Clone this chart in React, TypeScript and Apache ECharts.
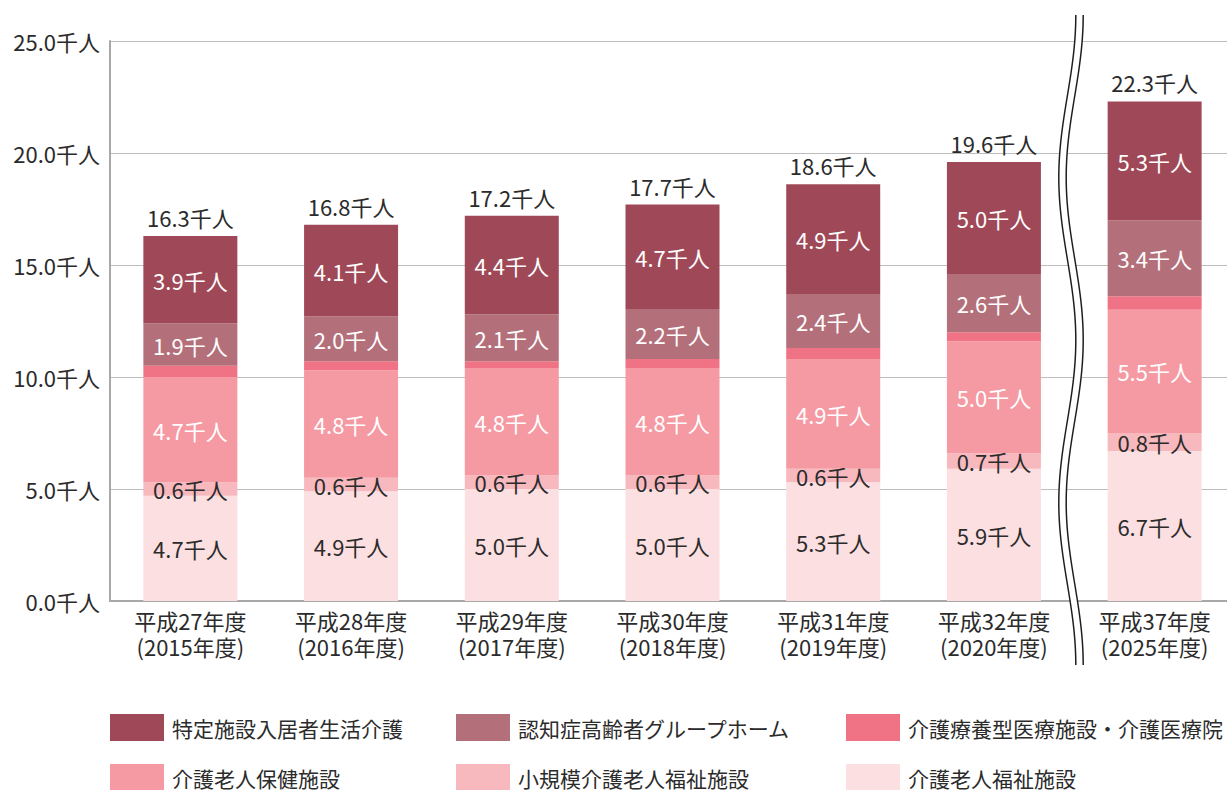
import React, { useEffect, useRef } from "react";
import * as echarts from "echarts";

const categories = [
  "平成27年度\n(2015年度)",
  "平成28年度\n(2016年度)",
  "平成29年度\n(2017年度)",
  "平成30年度\n(2018年度)",
  "平成31年度\n(2019年度)",
  "平成32年度\n(2020年度)",
  "平成37年度\n(2025年度)",
];

const fukushi = [4.7, 4.9, 5.0, 5.0, 5.3, 5.9, 6.7];
const shokibo = [0.6, 0.6, 0.6, 0.6, 0.6, 0.7, 0.8];
const hoken = [4.7, 4.8, 4.8, 4.8, 4.9, 5.0, 5.5];
const ryoyo = [0.5, 0.4, 0.3, 0.4, 0.5, 0.4, 0.6];
const ninchi = [1.9, 2.0, 2.1, 2.2, 2.4, 2.6, 3.4];
const tokutei = [3.9, 4.1, 4.4, 4.7, 4.9, 5.0, 5.3];
const totals = [16.3, 16.8, 17.2, 17.7, 18.6, 19.6, 22.3];

const yTicks = [0, 5, 10, 15, 20, 25];

// legend layout: [name, column, row]
const legendItems: [string, number, number][] = [
  ["特定施設入居者生活介護", 0, 0],
  ["認知症高齢者グループホーム", 1, 0],
  ["介護療養型医療施設・介護医療院", 2, 0],
  ["介護老人保健施設", 0, 1],
  ["小規模介護老人福祉施設", 1, 1],
  ["介護老人福祉施設", 2, 1],
];
const legendCols = [110, 456, 846];
const legendRows = [714, 764];

const FONT = '"Noto Sans CJK JP", "Noto Sans", sans-serif';
const DARK = "#2b2b2b";

export default function App() {
  const ref = useRef<HTMLDivElement>(null);
  useEffect(() => {
    document.body.style.margin = "0";
    const chart = echarts.init(ref.current!, null, { renderer: "svg" });

    const lbl = (color: string) => ({
      show: true,
      position: "inside",
      color,
      fontSize: 22,
      fontFamily: FONT,
      formatter: (p: any) => p.value.toFixed(1) + "千人",
    });

    const mk = (name: string, data: number[], color: string, labelColor: string | null) => ({
      name,
      type: "bar",
      stack: "t",
      data,
      barWidth: 94,
      itemStyle: { color },
      label: labelColor ? lbl(labelColor) : { show: false },
    });

    // wavy break decoration
    const top = 15, bottom = 665, cx0 = 1071, amp = 8.5, period = 325, half = 3.7;
    const left: number[][] = [];
    const right: number[][] = [];
    for (let y = top; y <= bottom; y += 5) {
      const c = cx0 + amp * Math.cos((2 * Math.PI * (y - top)) / period);
      left.push([c - half, y]);
      right.push([c + half, y]);
    }
    const fillPts = left.concat(right.slice().reverse());

    chart.setOption({
      animation: false,
      textStyle: { fontFamily: FONT },
      grid: { left: 110, top: 41, width: 1125, height: 560, containLabel: false },
      xAxis: {
        type: "category",
        data: categories,
        axisLine: { show: true, lineStyle: { color: "#a8a8a8", width: 2 } },
        axisTick: { show: false },
        axisLabel: {
          color: DARK,
          fontSize: 22,
          fontFamily: FONT,
          lineHeight: 26,
          margin: 6,
        },
      },
      yAxis: {
        type: "value",
        min: 0,
        max: 25,
        interval: 5,
        axisLine: { show: true, lineStyle: { color: "#a8a8a8", width: 2 } },
        axisTick: { show: false },
        splitLine: { lineStyle: { color: "#bdbdbd", width: 1 } },
        axisLabel: {
          color: DARK,
          fontSize: 22,
          fontFamily: FONT,
          margin: 10,
          formatter: (v: number) => (yTicks.includes(v) ? v.toFixed(1) + "千人" : ""),
        },
      },
      legend: legendItems.map(([name, c, r]) => ({
        orient: "horizontal",
        left: legendCols[c],
        top: legendRows[r],
        padding: 0,
        itemWidth: 54,
        itemHeight: 27,
        icon: "rect",
        selectedMode: false,
        data: [name],
        textStyle: { fontSize: 21, color: DARK, fontFamily: FONT, padding: [0, 0, 0, 3] },
      })),
      series: [
        mk("介護老人福祉施設", fukushi, "#fcdfe1", DARK),
        mk("小規模介護老人福祉施設", shokibo, "#f7b9be", DARK),
        mk("介護老人保健施設", hoken, "#f59aa3", "#ffffff"),
        mk("介護療養型医療施設・介護医療院", ryoyo, "#f07385", null),
        mk("認知症高齢者グループホーム", ninchi, "#b4707a", "#ffffff"),
        mk("特定施設入居者生活介護", tokutei, "#9f4958", "#ffffff"),
        {
          name: "合計",
          type: "bar",
          stack: "t",
          data: totals.map(() => 0),
          barWidth: 94,
          itemStyle: { color: "transparent" },
          label: {
            show: true,
            position: "top",
            distance: 8,
            color: DARK,
            fontSize: 22,
            fontFamily: FONT,
            formatter: (p: any) => totals[p.dataIndex].toFixed(1) + "千人",
          },
        },
      ],
      graphic: [
        {
          type: "polygon",
          z: 100,
          shape: { points: fillPts },
          style: { fill: "#ffffff", stroke: "none" },
        },
        {
          type: "polyline",
          z: 101,
          shape: { points: left, smooth: 0.3 },
          style: { stroke: "#1e1e1e", lineWidth: 1.5, fill: "none" },
        },
        {
          type: "polyline",
          z: 101,
          shape: { points: right, smooth: 0.3 },
          style: { stroke: "#1e1e1e", lineWidth: 1.5, fill: "none" },
        },
      ],
    });
    return () => chart.dispose();
  }, []);
  return (
    <div
      style={{
        position: "absolute",
        left: 0,
        top: 0,
        width: 1227,
        height: 790,
        overflow: "hidden",
      }}
    >
      <div ref={ref} style={{ width: 1240, height: 790 }} />
    </div>
  );
}
